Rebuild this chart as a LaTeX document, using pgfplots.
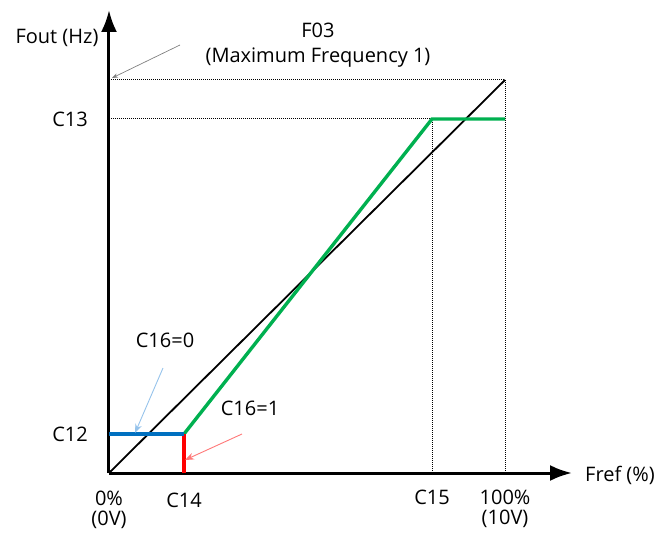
\documentclass[border=0pt]{standalone}
\usepackage{fontspec}
\setmainfont{Open Sans}
\usepackage{pgfplots}
\pgfplotsset{compat=1.18}
\usetikzlibrary{arrows.meta}
\definecolor{grn}{RGB}{0,176,80}
\definecolor{blu}{RGB}{0,112,192}
\definecolor{lblu}{RGB}{150,195,235}
\definecolor{lred}{RGB}{255,120,120}
\definecolor{txt}{RGB}{40,40,40}
\begin{document}
\begin{tikzpicture}[font=\fontsize{20}{24}\selectfont]
\begin{axis}[
    x=1pt, y=1pt,
    xmin=0, xmax=463,
    ymin=0, ymax=463,
    axis lines=left,
    axis line style={line width=3pt, -{Latex[length=22pt,width=16pt]}},
    xtick=\empty, ytick=\empty,
    clip=false,
    every node/.append style={text=txt},
]
% frame of the picture
\path (axis cs:-109,-58) rectangle (axis cs:554,473);

% guide lines
\addplot[densely dotted, black, line width=1pt] coordinates {(0,393)(396,393)(396,0)};
\addplot[densely dotted, black, line width=1pt] coordinates {(0,354)(323,354)(323,0)};

% reference line
\addplot[black, line width=1.8pt] coordinates {(0,0)(396,393)};

% C16=1 curve
\addplot[grn, line width=3.4pt] coordinates {(75,39)(323,354)(396,354)};
\addplot[red, line width=3.4pt] coordinates {(75,0)(75,39)};
% C16=0
\addplot[blu, line width=3.4pt] coordinates {(0,39)(75,39)};

% annotations
\draw[gray, line width=0.7pt, -{Stealth[length=6pt]}] (axis cs:71,428) -- (axis cs:3,395);
\draw[lblu, line width=0.9pt, -{Stealth[length=9pt]}] (axis cs:54,105) -- (axis cs:26,40);
\draw[lred, line width=0.9pt, -{Stealth[length=9pt]}] (axis cs:133,39) -- (axis cs:76,13);

\node at (axis cs:-52,435) {Fout (Hz)};
\node at (axis cs:209,443) {F03};
\node at (axis cs:209,415) {(Maximum Frequency 1)};
\node at (axis cs:-39,354) {C13};
\node at (axis cs:-39,39) {C12};
\node at (axis cs:56,133) {C16=0};
\node at (axis cs:141,65) {C16=1};
\node at (axis cs:0,-25) {0\%};
\node at (axis cs:0,-47) {(0V)};
\node at (axis cs:75,-27) {C14};
\node at (axis cs:323,-24) {C15};
\node at (axis cs:396,-24) {100\%};
\node at (axis cs:396,-46) {(10V)};
\node at (axis cs:511,-2) {Fref (\%)};
\end{axis}
\end{tikzpicture}
\end{document}
